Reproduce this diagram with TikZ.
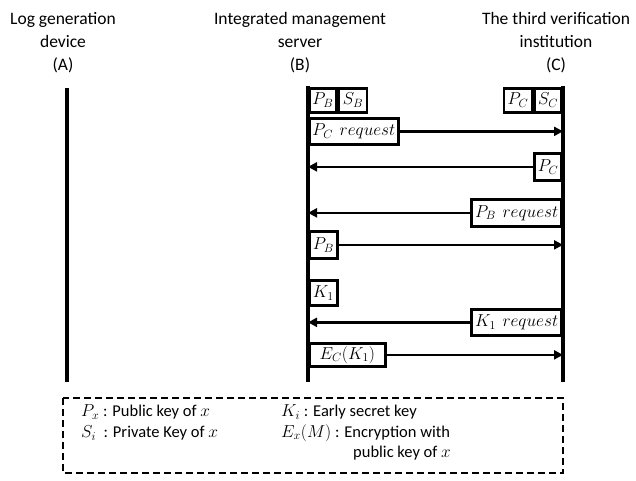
\documentclass[tikz,border=0pt]{standalone}
\usepackage{fontspec}
\setmainfont{Carlito}
\usetikzlibrary{arrows.meta}
\begin{document}
\begin{tikzpicture}[x=1pt,y=-1pt,
  box/.style={draw, line width=2.7pt, inner sep=0pt, font=\fontsize{17}{20}\selectfont},
  life/.style={line width=3.2pt},
  arr/.style={line width=2.6pt, -{Triangle[length=9pt,width=9pt]}},
  head/.style={align=center, font=\fontsize{17.5}{23}\selectfont},
  leg/.style={anchor=west, inner sep=0pt, font=\fontsize{16.5}{19}\selectfont}]
\useasboundingbox (0,0) rectangle (636,480);
% headers
\node[head] (hA) at (63,43) {Log generation\\device\\(A)};
\node[head] (hB) at (300,43) {Integrated management\\server\\(B)};
\node[head] (hC) at (556,43) {The third verification\\institution\\(C)};
% lifelines
\coordinate (At) at (67,88); \coordinate (Ab) at (67,382);
\coordinate (Bt) at (308,86); \coordinate (Bb) at (308,382);
\coordinate (Ct) at (563,86); \coordinate (Cb) at (563,382);
\draw[life] (At) -- (Ab);
\draw[life] (Bt) -- (Bb);
\draw[life] (Ct) -- (Cb);
% key boxes
\node[box, anchor=north west, minimum width=27pt, minimum height=24pt] (pb) at (308,87) {$P_B$};
\node[box, anchor=north west, minimum width=28pt, minimum height=24pt] (sb) at (pb.north east) {$S_B$};
\node[box, anchor=north east, minimum width=27pt, minimum height=24pt] (sc) at (563,87) {$S_C$};
\node[box, anchor=north east, minimum width=28pt, minimum height=24pt] (pcc) at (sc.north west) {$P_C$};
% messages
\node[box, anchor=north west, minimum width=89pt, minimum height=26pt] (pcreq) at (308,117) {$P_C$\, $request$};
\draw[arr] (pcreq.east) -- (pcreq.east -| Ct);
\node[box, anchor=north east, minimum width=27pt, minimum height=27pt] (pc) at (563,152) {$P_C$};
\draw[arr] (pc.west) -- (pc.west -| Bt);
\node[box, anchor=north east, minimum width=90pt, minimum height=27pt] (pbreq) at (563,198) {$P_B$\, $request$};
\draw[arr] (pbreq.west) -- (pbreq.west -| Bt);
\node[box, anchor=north west, minimum width=28pt, minimum height=27pt] (pb2) at (308,230) {$P_B$};
\draw[arr] (pb2.east) -- (pb2.east -| Ct);
\node[box, anchor=north west, minimum width=28pt, minimum height=25pt] (k1) at (308,279) {$K_1$};
\node[box, anchor=north east, minimum width=90pt, minimum height=26pt] (k1req) at (563,308) {$K_1$\, $request$};
\draw[arr] (k1req.west) -- (k1req.west -| Bt);
\node[box, anchor=north west, minimum width=76pt, minimum height=23pt] (ec) at (308,342) {$E_C(K_1)$};
\draw[arr] (ec.east) -- (ec.east -| Ct);
% legend
\draw[line width=2.4pt, dash pattern=on 7pt off 4pt] (63,398) rectangle (563,473);
\node[leg] (l1) at (81,412) {$P_x$ : Public key of $x$};
\node[leg] (l2) at (81,433) {$S_i$\ \ : Private Key of $x$};
\node[leg] (l3) at (281,412) {$K_i$ : Early secret key};
\node[leg] (l4) at (281,433) {$E_x(M)$ : Encryption with};
\node[leg] (l5) at (353,453) {public key of $x$};
\end{tikzpicture}
\end{document}
